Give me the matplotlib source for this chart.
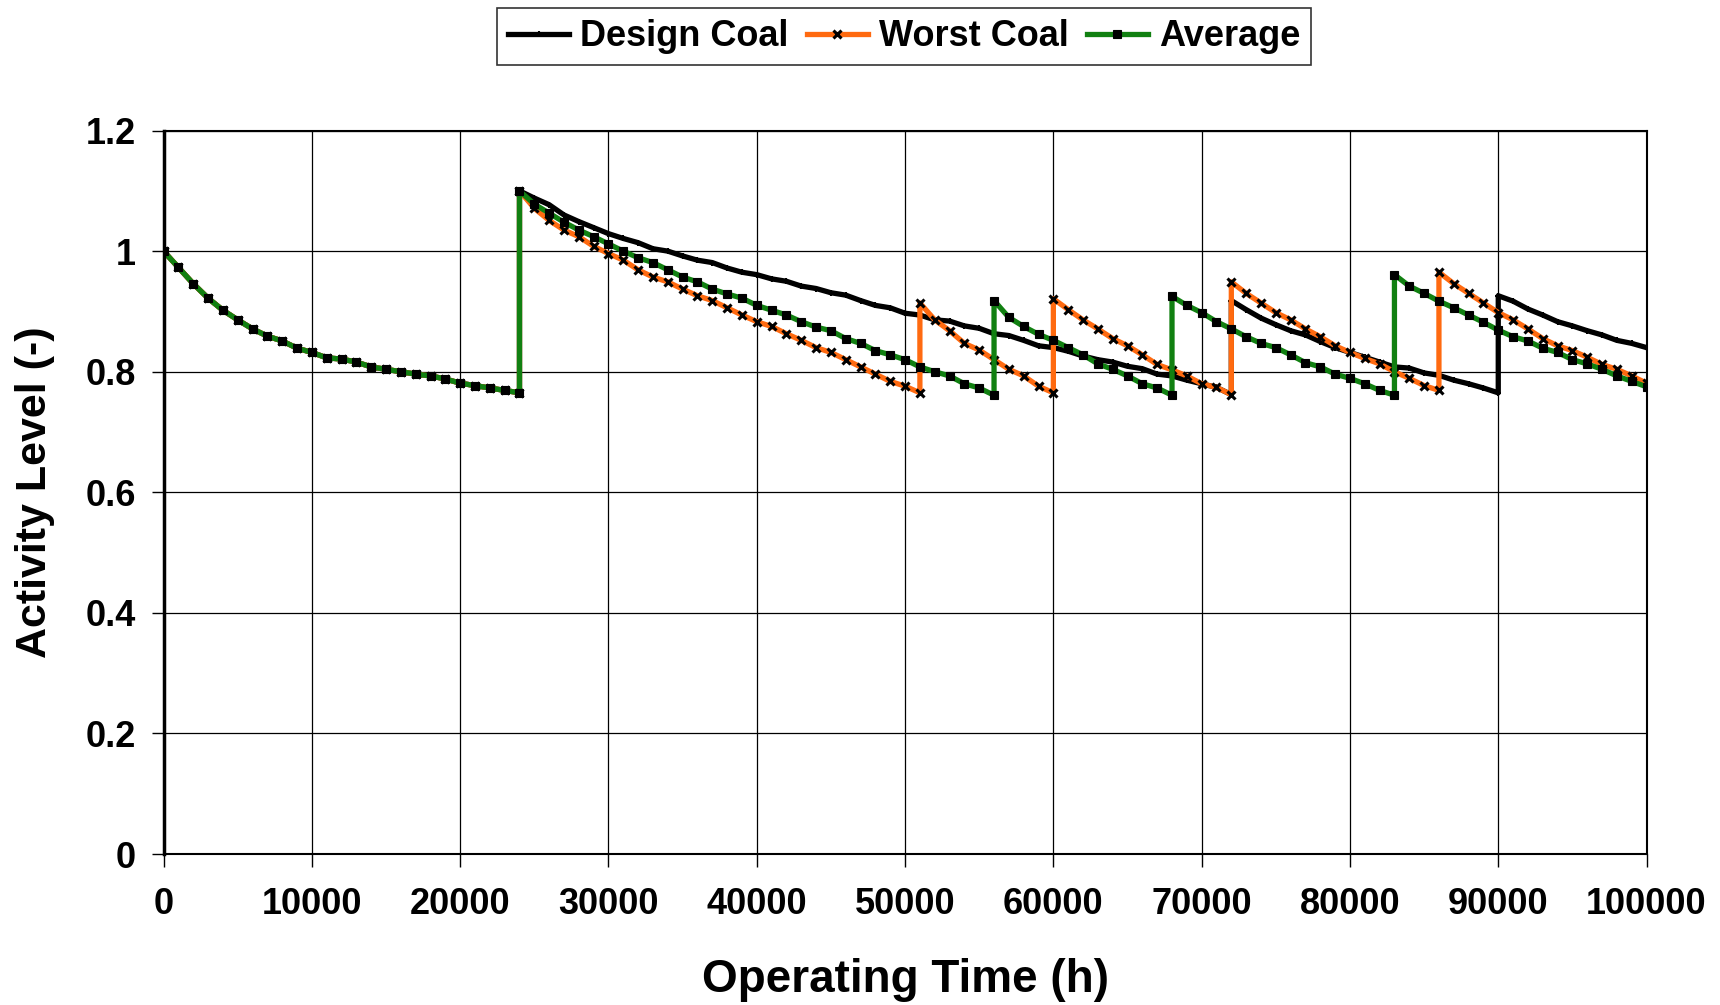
import numpy as np
import matplotlib.pyplot as plt

plt.rcParams['font.family'] = ['Liberation Sans', 'DejaVu Sans']
plt.rcParams['font.weight'] = 'bold'

STEP = 1000  # hours between logged points

# first run on fresh catalyst, common to all three cases (0 .. 24000 h)
first_run = [1.000, 0.973, 0.946, 0.922, 0.902, 0.886, 0.871, 0.859, 0.851, 0.839,
             0.832, 0.823, 0.821, 0.816, 0.808, 0.804, 0.800, 0.796, 0.793, 0.788,
             0.781, 0.777, 0.773, 0.769, 0.765]

# Design coal: regeneration at 24000, 72000, 90000 h
design_starts = [24000, 72000, 90000]
design_runs = [
    [1.100, 1.088, 1.077, 1.060, 1.049, 1.039, 1.029, 1.021, 1.014, 1.004,
     1.000, 0.992, 0.985, 0.981, 0.972, 0.965, 0.961, 0.954, 0.950, 0.942,
     0.938, 0.931, 0.927, 0.918, 0.910, 0.906, 0.897, 0.894, 0.886, 0.884,
     0.876, 0.872, 0.863, 0.860, 0.852, 0.843, 0.840, 0.834, 0.826, 0.820,
     0.816, 0.809, 0.805, 0.796, 0.793, 0.786, 0.780, 0.774, 0.762],
    [0.918, 0.903, 0.889, 0.878, 0.868, 0.861, 0.850, 0.840, 0.832, 0.824,
     0.816, 0.808, 0.806, 0.798, 0.794, 0.786, 0.780, 0.773, 0.765],
    [0.926, 0.917, 0.904, 0.894, 0.883, 0.876, 0.868, 0.861, 0.852, 0.847, 0.840],
]

# Worst coal: regeneration at 24000, 51000, 60000, 72000, 86000 h
worst_starts = [24000, 51000, 60000, 72000, 86000]
worst_runs = [
    [1.100, 1.071, 1.051, 1.035, 1.024, 1.008, 0.996, 0.985, 0.969, 0.957,
     0.949, 0.937, 0.926, 0.918, 0.906, 0.894, 0.883, 0.875, 0.863, 0.852,
     0.840, 0.832, 0.820, 0.808, 0.796, 0.784, 0.776, 0.765],
    [0.914, 0.886, 0.868, 0.847, 0.836, 0.820, 0.804, 0.793, 0.776, 0.765],
    [0.921, 0.903, 0.886, 0.871, 0.855, 0.843, 0.828, 0.812, 0.803, 0.793,
     0.780, 0.774, 0.762],
    [0.949, 0.930, 0.914, 0.898, 0.886, 0.871, 0.858, 0.843, 0.832, 0.822,
     0.813, 0.800, 0.789, 0.777, 0.769],
    [0.965, 0.946, 0.930, 0.914, 0.898, 0.886, 0.871, 0.855, 0.843, 0.835,
     0.824, 0.812, 0.804, 0.793, 0.781],
]

# Average: regeneration at 24000, 56000, 68000, 83000 h
average_starts = [24000, 56000, 68000, 83000]
average_runs = [
    [1.100, 1.078, 1.063, 1.048, 1.035, 1.024, 1.012, 1.000, 0.989, 0.981,
     0.969, 0.957, 0.949, 0.937, 0.929, 0.922, 0.910, 0.902, 0.894, 0.883,
     0.874, 0.868, 0.855, 0.847, 0.835, 0.828, 0.820, 0.808, 0.800, 0.793,
     0.780, 0.773, 0.761],
    [0.918, 0.890, 0.875, 0.862, 0.852, 0.840, 0.828, 0.813, 0.804, 0.793,
     0.780, 0.773, 0.761],
    [0.925, 0.910, 0.898, 0.883, 0.871, 0.858, 0.847, 0.840, 0.828, 0.815,
     0.808, 0.796, 0.789, 0.780, 0.769, 0.761],
    [0.961, 0.942, 0.930, 0.917, 0.906, 0.894, 0.882, 0.869, 0.858, 0.851,
     0.839, 0.832, 0.820, 0.813, 0.804, 0.793, 0.784, 0.775],
]


def build(starts, runs):
    """Join the runs into one curve; each run begins at its regeneration hour."""
    t = list(np.arange(len(first_run)) * STEP)
    a = list(first_run)
    for s, r in zip(starts, runs):
        t += list(s + np.arange(len(r)) * STEP)
        a += list(r)
    return np.array(t), np.array(a)


fig = plt.figure(figsize=(17.2, 10.05), dpi=100)
ax = fig.add_axes([0.0951, 0.1502, 0.8622, 0.7199])

t, a = build(design_starts, design_runs)
ax.plot(t, a, color='black', lw=3.8, marker='+', ms=5, mew=1.5, mec='black',
        label='Design Coal')
t, a = build(worst_starts, worst_runs)
ax.plot(t, a, color='#ff6a10', lw=3.8, marker='x', ms=5.2, mew=2.2, mec='black',
        label='Worst Coal')
t, a = build(average_starts, average_runs)
ax.plot(t, a, color='#118011', lw=3.8, marker='s', ms=5.6, mew=0.8, mec='black',
        mfc='black', label='Average')

ax.set_xlim(0, 100000)
ax.set_ylim(0, 1.2)
ax.set_xticks(np.arange(0, 100001, 10000))
ax.set_yticks([0, 0.2, 0.4, 0.6, 0.8, 1.0, 1.2])
ax.set_yticklabels(['0', '0.2', '0.4', '0.6', '0.8', '1', '1.2'])
ax.grid(True, color='black', lw=0.9)
ax.tick_params(direction='out', length=9, width=1, labelsize=26)
ax.tick_params(axis='x', pad=15)
ax.tick_params(axis='y', pad=11)
for s in ax.spines.values():
    s.set_color('black')
    s.set_linewidth(1.5)
ax.spines['left'].set_linewidth(2.5)

ax.set_xlabel('Operating Time (h)', fontsize=33, fontweight='bold', va='center')
ax.set_ylabel('Activity Level (-)', fontsize=31, fontweight='bold', va='center')
ax.xaxis.set_label_coords(0.5, -0.1735)
ax.yaxis.set_label_coords(-0.0866, 0.5)

leg = fig.legend(loc='center', bbox_to_anchor=(0.5256, 0.9635), ncol=3,
                 fontsize=26, frameon=True, fancybox=False, edgecolor='black',
                 handlelength=1.7, handletextpad=0.3, columnspacing=0.5,
                 borderpad=0.3)
leg.get_frame().set_linewidth(1.2)

fig.savefig('out.png', dpi=100)
